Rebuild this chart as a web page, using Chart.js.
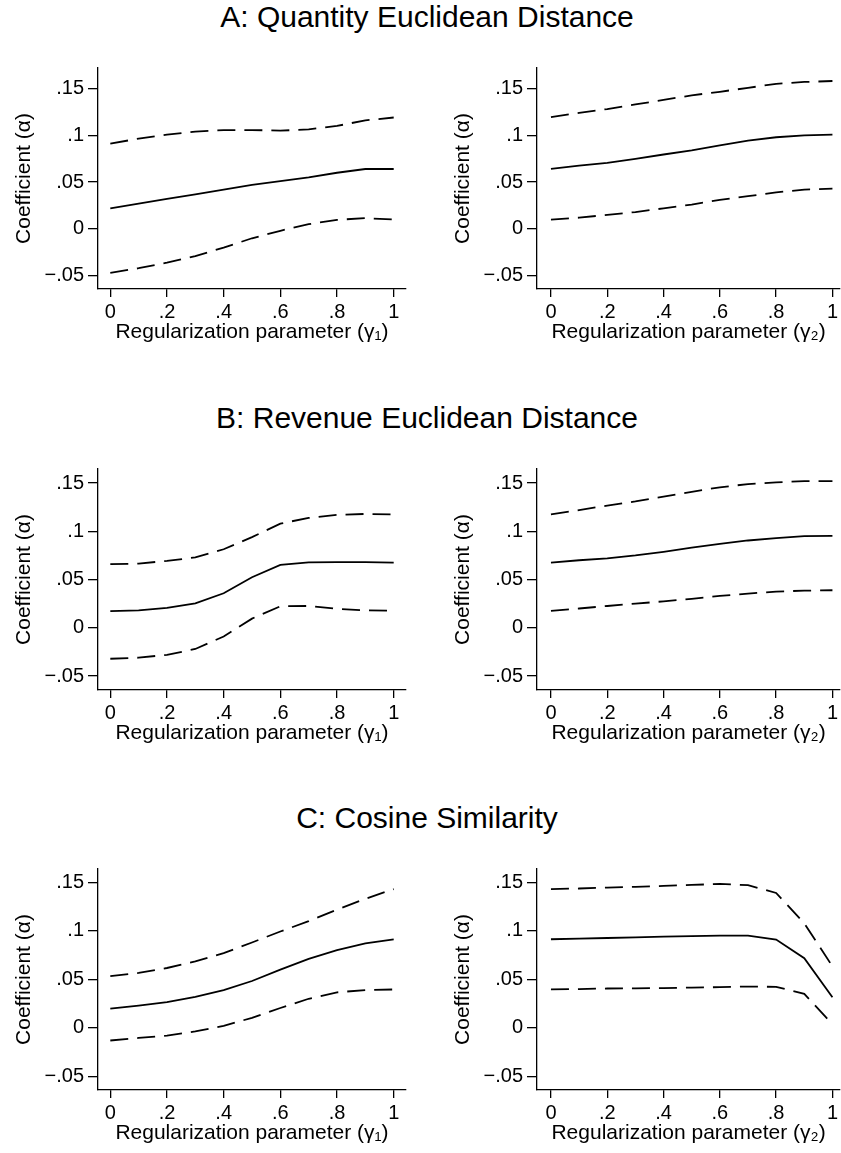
<!DOCTYPE html>
<html>
<head>
<meta charset="utf-8">
<script src="https://cdn.jsdelivr.net/npm/chart.js@4/dist/chart.umd.min.js"></script>
<style>
body { margin: 0; background: #fff; width: 841px; height: 1153px; overflow: hidden; position: relative; font-family: "Liberation Sans", Arial, sans-serif; }
canvas { position: absolute; }
.ptitle { position: absolute; left: 0; width: 854px; text-align: center; font-size: 30px; line-height: 30px; color: #000; white-space: nowrap; }
</style>
</head>
<body>
<script>
// Grid of the regularization parameter
const gammaGrid = [0, 0.1, 0.2, 0.3, 0.4, 0.5, 0.6, 0.7, 0.8, 0.9, 1];

const xTickVals = [0, 0.2, 0.4, 0.6, 0.8, 1];
const xTickLabels = ["0", ".2", ".4", ".6", ".8", "1"];
const yTickVals = [-0.05, 0, 0.05, 0.1, 0.15];
const yTickLabels = ["\u2212.05", "0", ".05", ".1", ".15"];

const panelTitles = ["A: Quantity Euclidean Distance", "B: Revenue Euclidean Distance", "C: Cosine Similarity"];
const xTitles = ["Regularization parameter (\u03b3\u2081)", "Regularization parameter (\u03b3\u2082)"];
const yTitle = "Coefficient (\u03b1)";

// A: Quantity Euclidean Distance
const qtyG1Coef  = [0.022, 0.027, 0.032, 0.037, 0.042, 0.047, 0.051, 0.055, 0.060, 0.064, 0.064];
const qtyG1Upper = [0.091, 0.0965, 0.1007, 0.104, 0.1056, 0.1056, 0.105, 0.1063, 0.110, 0.116, 0.119];
const qtyG1Lower = [-0.047, -0.042, -0.036, -0.029, -0.020, -0.010, -0.002, 0.005, 0.0097, 0.0115, 0.010];
const qtyG2Coef  = [0.0642, 0.0677, 0.0705, 0.0747, 0.0795, 0.084, 0.0892, 0.0944, 0.0979, 0.100, 0.1007];
const qtyG2Upper = [0.1194, 0.124, 0.128, 0.133, 0.1378, 0.1427, 0.1465, 0.1507, 0.155, 0.157, 0.158];
const qtyG2Lower = [0.010, 0.012, 0.015, 0.018, 0.022, 0.026, 0.031, 0.035, 0.039, 0.042, 0.043];

// B: Revenue Euclidean Distance
const revG1Coef  = [0.0172, 0.018, 0.0206, 0.0253, 0.0358, 0.0524, 0.0652, 0.0679, 0.068, 0.068, 0.0676];
const revG1Upper = [0.0659, 0.0666, 0.0693, 0.073, 0.0814, 0.094, 0.108, 0.1139, 0.117, 0.118, 0.1176];
const revG1Lower = [-0.0321, -0.031, -0.028, -0.022, -0.009, 0.0095, 0.0223, 0.0226, 0.0196, 0.018, 0.0176];
const revG2Coef  = [0.0676, 0.070, 0.072, 0.075, 0.0787, 0.083, 0.087, 0.0905, 0.093, 0.095, 0.0953];
const revG2Upper = [0.1176, 0.122, 0.1267, 0.131, 0.136, 0.141, 0.1456, 0.149, 0.1507, 0.152, 0.152];
const revG2Lower = [0.0176, 0.020, 0.0226, 0.025, 0.0274, 0.030, 0.033, 0.0355, 0.0375, 0.0385, 0.0389];

// C: Cosine Similarity
const cosG1Coef  = [0.0198, 0.023, 0.0265, 0.032, 0.039, 0.0483, 0.060, 0.071, 0.080, 0.087, 0.0913];
const cosG1Upper = [0.0534, 0.0567, 0.0617, 0.0685, 0.077, 0.088, 0.0993, 0.110, 0.1218, 0.133, 0.143];
const cosG1Lower = [-0.013, -0.0104, -0.008, -0.0037, 0.002, 0.0104, 0.0205, 0.030, 0.0366, 0.039, 0.0396];
const cosG2Coef  = [0.0913, 0.092, 0.0926, 0.0933, 0.094, 0.0946, 0.095, 0.095, 0.091, 0.0718, 0.0315];
const cosG2Upper = [0.143, 0.1436, 0.1446, 0.1453, 0.1463, 0.1473, 0.1483, 0.147, 0.139, 0.1077, 0.0634];
const cosG2Lower = [0.0396, 0.040, 0.0406, 0.0408, 0.041, 0.0415, 0.042, 0.0426, 0.0423, 0.035, 0.0037];

const panelSeries = [
    [[qtyG1Coef, qtyG1Upper, qtyG1Lower], [qtyG2Coef, qtyG2Upper, qtyG2Lower]],
    [[revG1Coef, revG1Upper, revG1Lower], [revG2Coef, revG2Upper, revG2Lower]],
    [[cosG1Coef, cosG1Upper, cosG1Lower], [cosG2Coef, cosG2Upper, cosG2Lower]]
];

// Layout
const rowTops = [52, 453, 853];
const titleTops = [2, 402.6, 803];
const rowY = [[-0.0642, 0.1719], [-0.0645, 0.1646], [-0.064, 0.1637]];
const cols = [
    { left: 0, width: 410, yW: 98, padR: 4, xMin: -0.0434, xMax: 1.0434, yTitleX: 24.5 },
    { left: 430, width: 411, yW: 107, padR: 0, xMin: -0.0496, xMax: 1.0273, yTitleX: 33 }
];
const canvasH = 295;
const font = "'Liberation Sans', Arial, sans-serif";

function toPoints(vals) {
    return vals.map((v, i) => ({ x: gammaGrid[i], y: v }));
}

function makeDataset(vals, dashed) {
    return {
        data: toPoints(vals),
        borderColor: "#000",
        borderWidth: 1.8,
        borderDash: dashed ? [18, 9] : [],
        pointRadius: 0,
        tension: 0,
        fill: false
    };
}

panelTitles.forEach((t, r) => {
    const d = document.createElement("div");
    d.className = "ptitle";
    d.style.top = titleTops[r] + "px";
    d.textContent = t;
    document.body.appendChild(d);
});

for (let r = 0; r < 3; r++) {
    for (let c = 0; c < 2; c++) {
        const col = cols[c];
        const cv = document.createElement("canvas");
        cv.width = col.width;
        cv.height = canvasH;
        cv.style.left = col.left + "px";
        cv.style.top = rowTops[r] + "px";
        document.body.appendChild(cv);

        const [coef, upper, lower] = panelSeries[r][c];

        new Chart(cv.getContext("2d"), {
            type: "line",
            data: {
                datasets: [makeDataset(upper, true), makeDataset(coef, false), makeDataset(lower, true)]
            },
            options: {
                responsive: false,
                animation: false,
                devicePixelRatio: 1,
                layout: { padding: { top: 10, left: 0, right: col.padR, bottom: 0 } },
                plugins: { legend: { display: false }, tooltip: { enabled: false } },
                scales: {
                    x: {
                        type: "linear",
                        min: col.xMin,
                        max: col.xMax,
                        afterBuildTicks: s => { s.ticks = xTickVals.map(v => ({ value: v })); },
                        afterFit: s => { s.height = 58; },
                        grid: { drawOnChartArea: false, drawTicks: true, tickLength: 8, color: "#000", lineWidth: 1.3 },
                        border: { display: true, color: "#000", width: 1.3 },
                        ticks: {
                            color: "#000",
                            padding: 3,
                            maxRotation: 0,
                            font: { family: font, size: 20 },
                            callback: (v, i) => xTickLabels[i]
                        },
                        title: {
                            display: true,
                            text: xTitles[c],
                            color: "#000",
                            font: { family: font, size: 21, lineHeight: 1 },
                            padding: { top: 0, bottom: 4 }
                        }
                    },
                    y: {
                        type: "linear",
                        min: rowY[r][0],
                        max: rowY[r][1],
                        afterBuildTicks: s => { s.ticks = yTickVals.map(v => ({ value: v })); },
                        afterFit: s => { s.width = col.yW; },
                        grid: { drawOnChartArea: false, drawTicks: true, tickLength: 10, color: "#000", lineWidth: 1.3 },
                        border: { display: true, color: "#000", width: 1.3 },
                        ticks: {
                            color: "#000",
                            padding: 4,
                            font: { family: font, size: 20 },
                            callback: (v, i) => yTickLabels[i]
                        },
                        title: {
                            display: true,
                            text: yTitle,
                            color: "#000",
                            font: { family: font, size: 21, lineHeight: 1 },
                            padding: { top: col.yTitleX - 10.5, bottom: 0 }
                        }
                    }
                }
            }
        });
    }
}
</script>
</body>
</html>
